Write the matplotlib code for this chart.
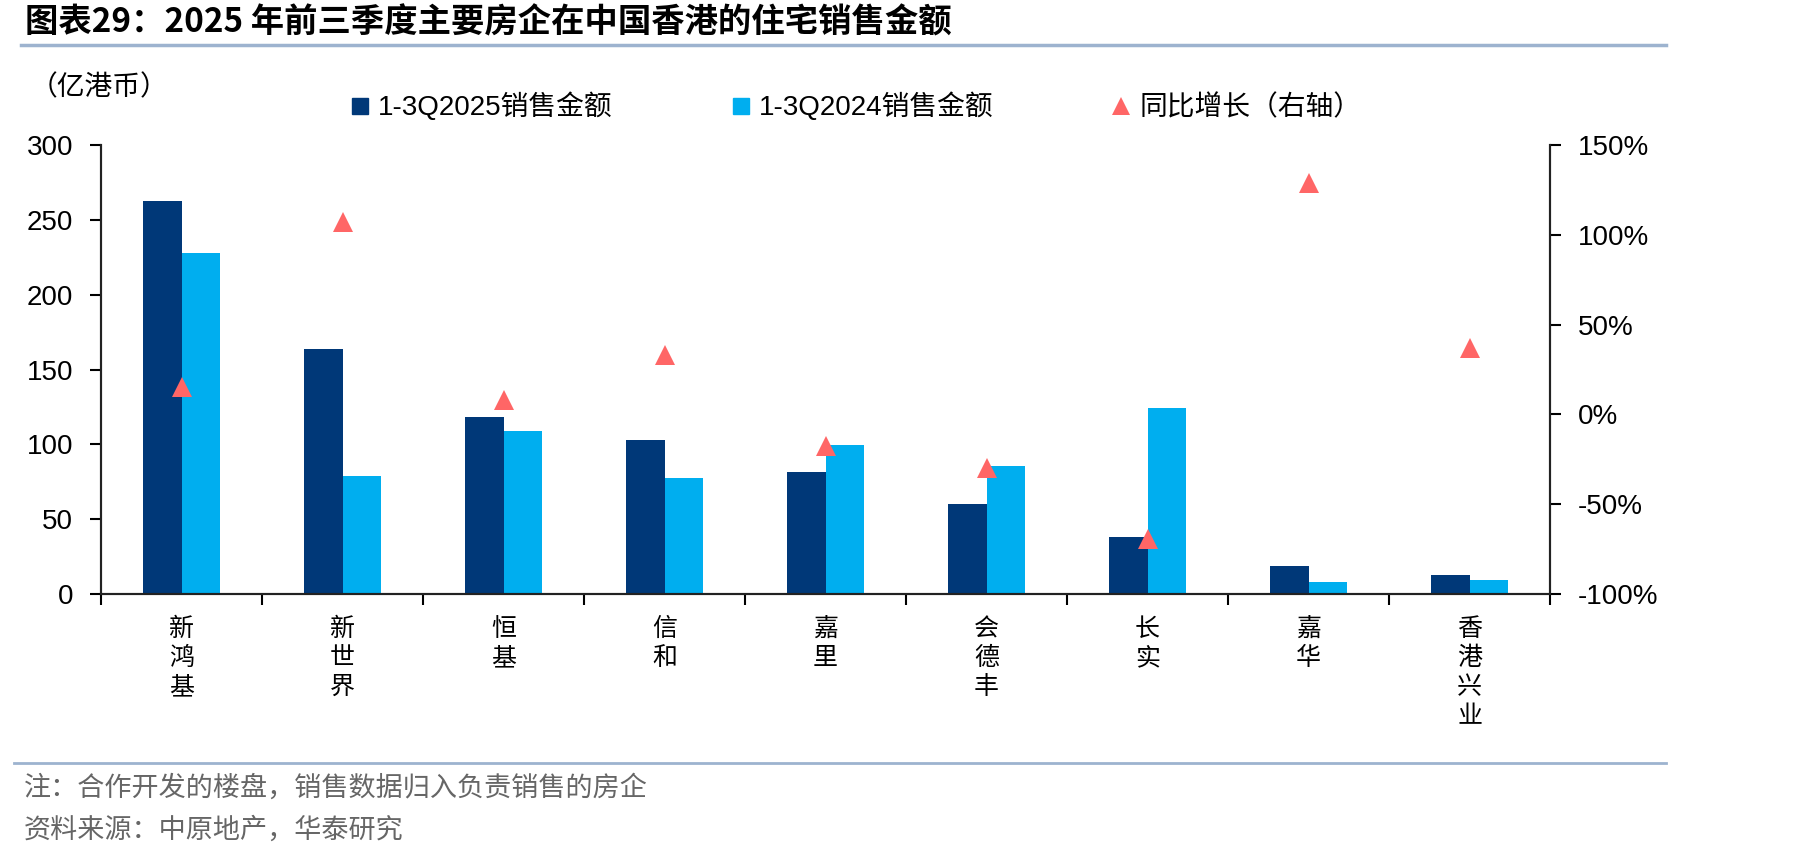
import matplotlib.pyplot as plt
from matplotlib.lines import Line2D

plt.rcParams["font.family"] = ["Liberation Sans", "Noto Sans CJK SC", "DejaVu Sans"]

companies = ["新鸿基", "新世界", "恒基", "信和", "嘉里", "会德丰", "长实", "嘉华", "香港兴业"]
sales_2025 = [262.6, 163.6, 118.0, 103.0, 81.5, 60.1, 38.1, 18.7, 12.5]
sales_2024 = [227.9, 78.8, 109.1, 77.2, 99.3, 85.5, 124.0, 7.8, 9.1]
yoy_pct = [15.2, 107.4, 7.8, 33.3, -17.8, -29.6, -69.5, 129.1, 36.7]

label_2025 = "1-3Q2025销售金额"
label_2024 = "1-3Q2024销售金额"
label_yoy = "同比增长（右轴）"

dark_blue = "#003878"
light_blue = "#00AEEF"
red = "#FF6666"
rule_color = "#9DB3CF"

W, H = 1819, 858
fig = plt.figure(figsize=(W / 100, H / 100), dpi=100)

# axes box in pixel terms: x 101..1550, y 145..594
ax = fig.add_axes([101 / W, 1 - 594 / H, 1449 / W, 449 / H])
ax2 = ax.twinx()

x = list(range(len(companies)))
bw = 0.238
ax.bar([i - bw / 2 for i in x], sales_2025, width=bw, color=dark_blue, zorder=2)
ax.bar([i + bw / 2 for i in x], sales_2024, width=bw, color=light_blue, zorder=2)
ax2.plot(x, yoy_pct, ls="", marker="^", ms=14, color=red, markeredgewidth=0)

ax.set_xlim(-0.5, len(companies) - 0.5)
ax.set_ylim(0, 300)
ax.set_yticks(range(0, 301, 50))
ax2.set_ylim(-100, 150)
ax2.set_yticks(range(-100, 151, 50))
ax2.set_yticklabels([f"{v}%" for v in range(-100, 151, 50)])

# category boundaries carry ticks, centres carry the labels
ax.set_xticks([i - 0.5 for i in range(len(companies) + 1)])
ax.set_xticklabels([])
ax.set_xticks(x, minor=True)
ax.set_xticklabels(["\n".join(c) for c in companies], minor=True,
                   fontsize=18, family=["Noto Sans CJK SC"], linespacing=1.15, va="top")
ax.tick_params(axis="x", which="minor", length=0, pad=16)
ax.tick_params(axis="x", which="major", length=8, width=1.5, direction="out")
ax.tick_params(axis="y", length=8, width=1.5, labelsize=20, pad=12)
ax2.tick_params(axis="y", length=8, width=1.5, labelsize=20, pad=12)

for a in (ax, ax2):
    a.spines["top"].set_visible(False)
    for s in ("left", "right", "bottom"):
        a.spines[s].set_linewidth(1.5)
        a.spines[s].set_color("#222222")

handles = [
    Line2D([], [], ls="", marker="s", ms=11, color=dark_blue),
    Line2D([], [], ls="", marker="s", ms=11, color=light_blue),
    Line2D([], [], ls="", marker="^", ms=13, color=red, markeredgewidth=0),
]
fig.legend(handles, [label_2025, label_2024, label_yoy], ncol=3, frameon=False,
           loc="center left", bbox_to_anchor=(338 / W, 1 - 107 / H), borderpad=0,
           handlelength=0.6, handletextpad=0.35, columnspacing=4.3,
           prop={"size": 20})

fig.text(30 / W, 1 - 87 / H, "（亿港币）", fontsize=20, va="center", ha="left",
         family=["Noto Sans CJK SC"])

fig.text(25 / W, 1 - 23 / H, "图表29：2025 年前三季度主要房企在中国香港的住宅销售金额",
         fontsize=24, weight="bold", va="center", ha="left",
         family=["Noto Sans CJK SC"])
fig.add_artist(Line2D([21 / W, 1666 / W], [1 - 45 / H] * 2, color=rule_color, lw=2.5))
fig.add_artist(Line2D([14 / W, 1666 / W], [1 - 763 / H] * 2, color=rule_color, lw=2))

fig.text(24 / W, 1 - 788 / H, "注：合作开发的楼盘，销售数据归入负责销售的房企",
         fontsize=19.5, color="#666666", va="center", family=["Noto Sans CJK SC"])
fig.text(24 / W, 1 - 830 / H, "资料来源：中原地产，华泰研究",
         fontsize=19.5, color="#666666", va="center", family=["Noto Sans CJK SC"])

fig.savefig("out.png", dpi=100)
